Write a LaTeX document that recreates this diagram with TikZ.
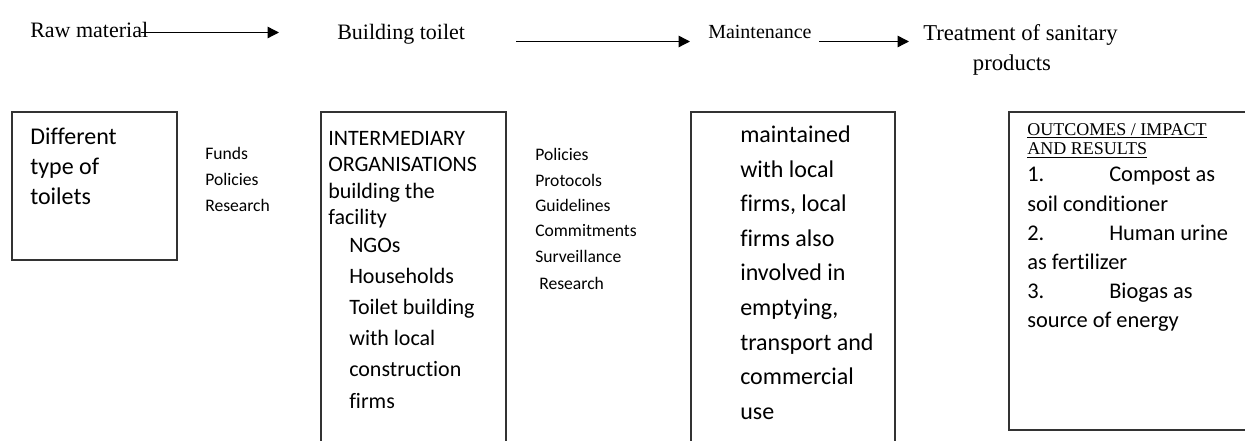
\documentclass[tikz,border=0pt]{standalone}
\usepackage{fontspec}
\setmainfont{Liberation Serif}
\newfontfamily\calfont[Ligatures={NoCommon,NoContextual}]{Carlito}
\usetikzlibrary{arrows.meta}
\begin{document}
\begin{tikzpicture}[x=0.75pt,y=-0.75pt]
\tikzset{
  lbl/.style={anchor=base west, inner sep=0pt, font=\fontsize{16.5}{18}\selectfont},
  arr/.style={line width=1pt, -{Triangle[length=8.5pt,width=8.5pt]}},
  boxline/.style={line width=1pt, draw=black!80},
  t1/.style={anchor=base west, inner sep=0pt, font=\calfont\fontsize{18}{20}\selectfont},
  t2/.style={anchor=base west, inner sep=0pt, font=\calfont\fontsize{16.5}{18}\selectfont},
  t4/.style={anchor=base west, inner sep=0pt, font=\calfont\fontsize{16.8}{19}\selectfont},
  lst/.style={anchor=base west, inner sep=0pt, font=\calfont\fontsize{13.2}{15}\selectfont},
  hdr/.style={anchor=base west, inner sep=0pt, font=\fontsize{13.5}{15}\selectfont}
}
\useasboundingbox (0,0) rectangle (1245,441);
\fill[white] (0,0) rectangle (1245,441);

% top row
\node[lbl] (raw) at (30,38) {Raw material};
\node[lbl] (bt) at (337,40) {Building toilet};
\node[lbl, font=\fontsize{15}{17}\selectfont] (mt) at (708,39) {Maintenance};
\node[lbl, font=\fontsize{17}{19}\selectfont] (tr) at (923,41) {Treatment of sanitary};
\node[anchor=base, inner sep=0pt, font=\fontsize{17}{19}\selectfont] (pr) at (1012,70.5) {products};

\coordinate (a1s) at (141,32.5); \coordinate (a1e) at (279,32.5);
\coordinate (a2s) at (516,41.5); \coordinate (a2e) at (690,41.5);
\coordinate (a3s) at (819,41.5); \coordinate (a3e) at (909,41.5);
\draw[arr] (a1s) -- (a1e);
\draw[arr] (a2s) -- (a2e);
\draw[arr] (a3s) -- (a3e);

% box 1
\draw[boxline] (12,112) rectangle (177,260);
\node[t1] (b1a) at (30,145) {Different};
\node[t1] (b1b) at (30,175) {type of};
\node[t1] (b1c) at (30,205) {toilets};

% list 1
\node[lst] (l1a) at (205,160) {Funds};
\node[lst] (l1b) at (205,186) {Policies};
\node[lst] (l1c) at (205,212) {Research};

% box 2
\draw[boxline] (321,441) -- (321,112) -- (506,112) -- (506,441);
\node[t2] (b2a) at (328,146) {INTERMEDIARY};
\node[t2] (b2b) at (328,172) {ORGANISATIONS};
\node[t2] (b2c) at (328,199) {building the};
\node[t2] (b2d) at (328,225) {facility};
\node[t2] (b2e) at (349,253) {NGOs};
\node[t2] (b2f) at (349,284) {Households};
\node[t2] (b2g) at (349,315) {Toilet building};
\node[t2] (b2h) at (349,346) {with local};
\node[t2] (b2i) at (349,377) {construction};
\node[t2] (b2j) at (349,408) {firms};

% list 2
\node[lst] (l2a) at (535,161) {Policies};
\node[lst] (l2b) at (535,187) {Protocols};
\node[lst] (l2c) at (535,212) {Guidelines};
\node[lst] (l2d) at (535,237) {Commitments};
\node[lst] (l2e) at (535,263) {Surveillance};
\node[lst] (l2f) at (539,290) {Research};

% box 3
\draw[boxline] (691,441) -- (691,112) -- (895,112) -- (895,441);
\node[t1] (b3a) at (740,143) {maintained};
\node[t1] (b3b) at (740,177.5) {with local};
\node[t1] (b3c) at (740,212) {firms, local};
\node[t1] (b3d) at (740,246.5) {firms also};
\node[t1] (b3e) at (740,281) {involved in};
\node[t1] (b3f) at (740,315.5) {emptying,};
\node[t1] (b3g) at (740,350) {transport and};
\node[t1] (b3h) at (740,384.5) {commercial};
\node[t1] (b3i) at (740,419) {use};

% box 4
\draw[boxline] (1250,112) -- (1009,112) -- (1009,430) -- (1250,430);
\node[hdr] (h1) at (1027,135.5) {\underline{OUTCOMES / IMPACT}};
\node[hdr] (h2) at (1027,155) {\underline{AND RESULTS}};
\node[t4] (n1) at (1027,182) {1.};
\node[t4] (c1) at (1109,182) {Compost as};
\node[t4] (c1b) at (1027,212) {soil conditioner};
\node[t4] (n2) at (1027,241) {2.};
\node[t4] (c2) at (1109,241) {Human urine};
\node[t4] (c2b) at (1027,270) {as fertilizer};
\node[t4] (n3) at (1027,299) {3.};
\node[t4] (c3) at (1109,299) {Biogas as};
\node[t4] (c3b) at (1027,328) {source of energy};
\end{tikzpicture}
\end{document}
